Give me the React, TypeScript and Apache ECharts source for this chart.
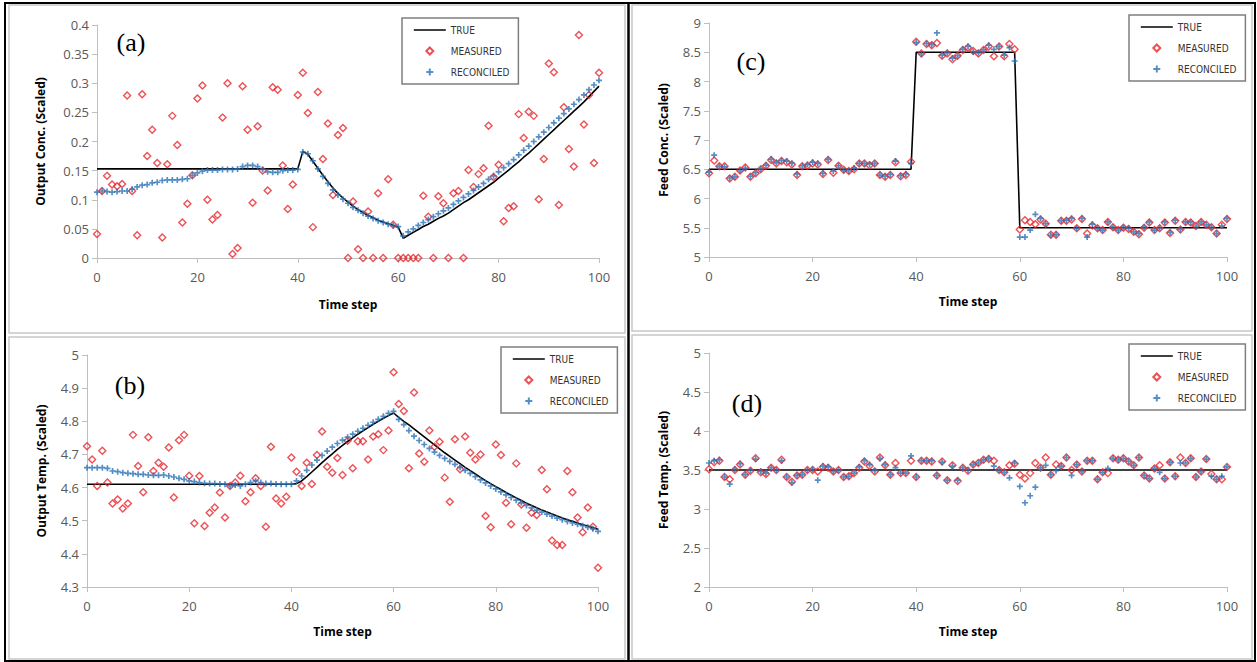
import React, { useEffect, useRef } from "react";
import * as echarts from "echarts";

// ---- time steps (x categories) ----
const steps: number[] = Array.from({ length: 101 }, (_, i) => i);
const xTicks = [0, 20, 40, 60, 80, 100];

// ---- panel (a): Output concentration ----
const trueA = [
  0.153, 0.153, 0.153, 0.153, 0.153, 0.153, 0.153, 0.153, 0.153, 0.153,
  0.153, 0.153, 0.153, 0.153, 0.153, 0.153, 0.153, 0.153, 0.153, 0.153,
  0.153, 0.153, 0.153, 0.153, 0.153, 0.153, 0.153, 0.153, 0.153, 0.153,
  0.153, 0.153, 0.153, 0.153, 0.153, 0.153, 0.153, 0.153, 0.153, 0.153,
  0.153, 0.183, 0.178, 0.166, 0.154, 0.142, 0.131, 0.12, 0.111, 0.103,
  0.096, 0.089, 0.083, 0.078, 0.073, 0.069, 0.065, 0.062, 0.059, 0.056,
  0.053, 0.034, 0.039, 0.044, 0.049, 0.054, 0.058, 0.063, 0.068, 0.072,
  0.077, 0.083, 0.089, 0.095, 0.1, 0.106, 0.112, 0.118, 0.124, 0.13,
  0.137, 0.144, 0.151, 0.158, 0.165, 0.173, 0.18, 0.188, 0.196, 0.204,
  0.212, 0.22, 0.228, 0.236, 0.244, 0.252, 0.26, 0.268, 0.277, 0.286,
  0.295,
];
const measA = [
  0.041, 0.115, 0.141, 0.126, 0.123, 0.127, 0.279, 0.115, 0.039, 0.281,
  0.175, 0.22, 0.163, 0.035, 0.161, 0.244, 0.194, 0.061, 0.093, 0.142,
  0.274, 0.296, 0.1, 0.066, 0.074, 0.241, 0.3, 0.007, 0.017, 0.295,
  0.22, 0.095, 0.226, 0.15, 0.116, 0.293, 0.289, 0.159, 0.084, 0.126,
  0.28, 0.318, 0.249, 0.053, 0.285, 0.17, 0.231, 0.108, 0.211, 0.223,
  0, 0.097, 0.015, 0, 0.08, 0, 0.111, 0, 0.135, 0.057,
  0, 0, 0, 0, 0, 0.107, 0.071, 0, 0.106, 0.094,
  0, 0.111, 0.115, 0, 0.151, 0.122, 0.144, 0.154, 0.227, 0.139,
  0.16, 0.063, 0.086, 0.089, 0.247, 0.206, 0.251, 0.244, 0.101, 0.17,
  0.334, 0.319, 0.091, 0.259, 0.187, 0.157, 0.383, 0.229, 0.28, 0.163,
  0.318,
];
const reconA = [
  0.113, 0.115, 0.114, 0.113, 0.114, 0.115, 0.115, 0.118, 0.122, 0.125,
  0.126, 0.129, 0.13, 0.133, 0.134, 0.134, 0.134, 0.135, 0.136, 0.142,
  0.146, 0.149, 0.151, 0.151, 0.151, 0.152, 0.152, 0.152, 0.153, 0.157,
  0.159, 0.159, 0.157, 0.152, 0.148, 0.147, 0.147, 0.15, 0.151, 0.151,
  0.152, 0.182, 0.179, 0.167, 0.153, 0.14, 0.128, 0.117, 0.108, 0.101,
  0.094, 0.087, 0.082, 0.077, 0.072, 0.068, 0.064, 0.061, 0.058, 0.056,
  0.054, 0.038, 0.045, 0.05, 0.056, 0.061, 0.066, 0.071, 0.076, 0.081,
  0.086, 0.092, 0.098, 0.104, 0.11, 0.116, 0.122, 0.128, 0.135, 0.141,
  0.148, 0.155, 0.162, 0.169, 0.177, 0.185, 0.192, 0.2, 0.208, 0.216,
  0.224, 0.232, 0.24, 0.248, 0.256, 0.264, 0.272, 0.28, 0.289, 0.297,
  0.305,
];

// ---- panel (b): Output temperature ----
const trueB = [
  4.61, 4.61, 4.61, 4.61, 4.61, 4.61, 4.61, 4.61, 4.61, 4.61,
  4.61, 4.61, 4.61, 4.61, 4.61, 4.61, 4.61, 4.61, 4.61, 4.61,
  4.61, 4.61, 4.61, 4.61, 4.61, 4.61, 4.61, 4.61, 4.61, 4.61,
  4.61, 4.61, 4.61, 4.61, 4.61, 4.61, 4.61, 4.61, 4.61, 4.61,
  4.61, 4.612, 4.62, 4.633, 4.647, 4.661, 4.675, 4.689, 4.702, 4.715,
  4.727, 4.739, 4.75, 4.761, 4.771, 4.781, 4.791, 4.8, 4.809, 4.817,
  4.825, 4.812, 4.8, 4.789, 4.777, 4.765, 4.753, 4.741, 4.729, 4.717,
  4.705, 4.694, 4.683, 4.672, 4.661, 4.651, 4.641, 4.631, 4.621, 4.612,
  4.603, 4.594, 4.585, 4.577, 4.569, 4.561, 4.553, 4.546, 4.539, 4.532,
  4.526, 4.52, 4.514, 4.508, 4.503, 4.498, 4.493, 4.488, 4.484, 4.479,
  4.474,
];
const measB = [
  4.725, 4.685, 4.605, 4.711, 4.615, 4.552, 4.564, 4.537, 4.552, 4.759,
  4.665, 4.586, 4.752, 4.65, 4.675, 4.663, 4.721, 4.57, 4.743, 4.759,
  4.636, 4.492, 4.635, 4.484, 4.524, 4.54, 4.585, 4.51, 4.605, 4.615,
  4.636, 4.559, 4.586, 4.628, 4.605, 4.482, 4.723, 4.567, 4.552, 4.572,
  4.691, 4.648, 4.605, 4.675, 4.611, 4.698, 4.769, 4.663, 4.645, 4.689,
  4.638, 4.741, 4.658, 4.74, 4.74, 4.685, 4.754, 4.761, 4.713, 4.772,
  4.948, 4.852, 4.831, 4.658, 4.887, 4.703, 4.678, 4.772, 4.723, 4.738,
  4.63, 4.557, 4.746, 4.655, 4.754, 4.705, 4.685, 4.7, 4.514, 4.48,
  4.73, 4.698, 4.554, 4.489, 4.673, 4.549, 4.479, 4.524, 4.517, 4.653,
  4.595, 4.44, 4.427, 4.427, 4.65, 4.586, 4.51, 4.465, 4.54, 4.482,
  4.358,
];
const reconB = [
  4.66, 4.66, 4.66, 4.66, 4.658, 4.65, 4.648, 4.645, 4.643, 4.642,
  4.64, 4.64, 4.638, 4.637, 4.637, 4.638, 4.635, 4.632, 4.628, 4.625,
  4.62, 4.618, 4.615, 4.613, 4.612, 4.612, 4.611, 4.61, 4.605, 4.608,
  4.605, 4.61, 4.615, 4.62, 4.615, 4.612, 4.612, 4.611, 4.61, 4.61,
  4.61, 4.62, 4.635, 4.652, 4.668, 4.683, 4.697, 4.71, 4.722, 4.733,
  4.743, 4.752, 4.761, 4.77, 4.779, 4.788, 4.797, 4.806, 4.815, 4.824,
  4.83, 4.806, 4.79, 4.772, 4.755, 4.742, 4.73, 4.718, 4.707, 4.697,
  4.688, 4.679, 4.67, 4.661, 4.652, 4.643, 4.633, 4.623, 4.614, 4.605,
  4.596, 4.587, 4.578, 4.57, 4.562, 4.554, 4.546, 4.539, 4.532, 4.526,
  4.52, 4.514, 4.508, 4.503, 4.498, 4.493, 4.489, 4.485, 4.48, 4.476,
  4.468,
];

// ---- panel (c): Feed concentration ----
const trueC = [
  6.5, 6.5, 6.5, 6.5, 6.5, 6.5, 6.5, 6.5, 6.5, 6.5,
  6.5, 6.5, 6.5, 6.5, 6.5, 6.5, 6.5, 6.5, 6.5, 6.5,
  6.5, 6.5, 6.5, 6.5, 6.5, 6.5, 6.5, 6.5, 6.5, 6.5,
  6.5, 6.5, 6.5, 6.5, 6.5, 6.5, 6.5, 6.5, 6.5, 6.5,
  8.5, 8.5, 8.5, 8.5, 8.5, 8.5, 8.5, 8.5, 8.5, 8.5,
  8.5, 8.5, 8.5, 8.5, 8.5, 8.5, 8.5, 8.5, 8.5, 8.5,
  5.5, 5.5, 5.5, 5.5, 5.5, 5.5, 5.5, 5.5, 5.5, 5.5,
  5.5, 5.5, 5.5, 5.5, 5.5, 5.5, 5.5, 5.5, 5.5, 5.5,
  5.5, 5.5, 5.5, 5.5, 5.5, 5.5, 5.5, 5.5, 5.5, 5.5,
  5.5, 5.5, 5.5, 5.5, 5.5, 5.5, 5.5, 5.5, 5.5, 5.5,
  5.5,
];
const measC = [
  6.43, 6.65, 6.55, 6.55, 6.34, 6.37, 6.48, 6.53, 6.37, 6.43,
  6.5, 6.56, 6.66, 6.6, 6.64, 6.62, 6.58, 6.4, 6.55, 6.56,
  6.6, 6.58, 6.42, 6.66, 6.44, 6.56, 6.49, 6.47, 6.5, 6.6,
  6.6, 6.57, 6.6, 6.4, 6.37, 6.4, 6.62, 6.38, 6.4, 6.63,
  8.68, 8.48, 8.64, 8.62, 8.66, 8.44, 8.48, 8.38, 8.44, 8.54,
  8.58, 8.52, 8.48, 8.54, 8.6, 8.43, 8.6, 8.43, 8.64, 8.55,
  5.47, 5.63, 5.6, 5.56, 5.64, 5.57, 5.38, 5.38, 5.62, 5.62,
  5.64, 5.49, 5.65, 5.4, 5.54, 5.49, 5.46, 5.6, 5.51, 5.46,
  5.5, 5.48, 5.43, 5.39, 5.5, 5.59, 5.46, 5.49, 5.59, 5.41,
  5.62, 5.47, 5.6, 5.59, 5.53, 5.6, 5.55, 5.51, 5.4, 5.55,
  5.65,
];
const reconC = [
  6.45, 6.74, 6.55, 6.54, 6.35, 6.37, 6.47, 6.52, 6.38, 6.44,
  6.5, 6.57, 6.67, 6.61, 6.65, 6.64, 6.6, 6.42, 6.56, 6.58,
  6.62, 6.6, 6.43, 6.67, 6.47, 6.56, 6.48, 6.47, 6.52, 6.6,
  6.6, 6.59, 6.6, 6.4, 6.38, 6.41, 6.64, 6.39, 6.42, 6.6,
  8.67, 8.47, 8.65, 8.63, 8.83, 8.45, 8.49, 8.4, 8.44, 8.55,
  8.6, 8.51, 8.49, 8.54, 8.62, 8.55, 8.6, 8.45, 8.58, 8.35,
  5.34, 5.34, 5.46, 5.73, 5.66, 5.57, 5.37, 5.38, 5.62, 5.63,
  5.66, 5.49, 5.66, 5.34, 5.56, 5.49, 5.46, 5.6, 5.51, 5.46,
  5.51, 5.49, 5.43, 5.4, 5.51, 5.6, 5.46, 5.5, 5.6, 5.42,
  5.63, 5.47, 5.6, 5.6, 5.53, 5.6, 5.55, 5.51, 5.4, 5.53,
  5.66,
];

// ---- panel (d): Feed temperature ----
const trueD = [
  3.5, 3.5, 3.5, 3.5, 3.5, 3.5, 3.5, 3.5, 3.5, 3.5,
  3.5, 3.5, 3.5, 3.5, 3.5, 3.5, 3.5, 3.5, 3.5, 3.5,
  3.5, 3.5, 3.5, 3.5, 3.5, 3.5, 3.5, 3.5, 3.5, 3.5,
  3.5, 3.5, 3.5, 3.5, 3.5, 3.5, 3.5, 3.5, 3.5, 3.5,
  3.5, 3.5, 3.5, 3.5, 3.5, 3.5, 3.5, 3.5, 3.5, 3.5,
  3.5, 3.5, 3.5, 3.5, 3.5, 3.5, 3.5, 3.5, 3.5, 3.5,
  3.5, 3.5, 3.5, 3.5, 3.5, 3.5, 3.5, 3.5, 3.5, 3.5,
  3.5, 3.5, 3.5, 3.5, 3.5, 3.5, 3.5, 3.5, 3.5, 3.5,
  3.5, 3.5, 3.5, 3.5, 3.5, 3.5, 3.5, 3.5, 3.5, 3.5,
  3.5, 3.5, 3.5, 3.5, 3.5, 3.5, 3.5, 3.5, 3.5, 3.5,
  3.5,
];
const measD = [
  3.51, 3.6, 3.62, 3.41, 3.38, 3.5, 3.57, 3.44, 3.49, 3.65,
  3.47, 3.45, 3.53, 3.5, 3.63, 3.41, 3.35, 3.43, 3.44, 3.5,
  3.5, 3.48, 3.54, 3.53, 3.48, 3.5, 3.41, 3.42, 3.46, 3.53,
  3.61, 3.55, 3.48, 3.66, 3.56, 3.44, 3.59, 3.46, 3.46, 3.62,
  3.41, 3.62, 3.62, 3.61, 3.43, 3.61, 3.37, 3.56, 3.36, 3.53,
  3.49, 3.57, 3.59, 3.63, 3.64, 3.62, 3.5, 3.47, 3.56, 3.58,
  3.44, 3.39, 3.46, 3.59, 3.53, 3.66, 3.44, 3.57, 3.55, 3.66,
  3.5, 3.57, 3.48, 3.62, 3.62, 3.38, 3.47, 3.46, 3.65, 3.63,
  3.65, 3.61, 3.56, 3.66, 3.43, 3.39, 3.52, 3.56, 3.39, 3.6,
  3.42, 3.66, 3.59, 3.65, 3.41, 3.48, 3.64, 3.45, 3.38, 3.38,
  3.54,
];
const reconD = [
  3.59, 3.62, 3.63, 3.41, 3.32, 3.51, 3.58, 3.44, 3.5, 3.64,
  3.48, 3.46, 3.53, 3.5, 3.62, 3.41, 3.34, 3.43, 3.44, 3.5,
  3.51, 3.37, 3.55, 3.54, 3.48, 3.5, 3.41, 3.42, 3.46, 3.54,
  3.62, 3.57, 3.49, 3.65, 3.57, 3.44, 3.53, 3.46, 3.46, 3.68,
  3.41, 3.62, 3.62, 3.62, 3.43, 3.6, 3.37, 3.55, 3.37, 3.53,
  3.5, 3.57, 3.59, 3.63, 3.65, 3.55, 3.5, 3.47, 3.4, 3.59,
  3.29, 3.08, 3.17, 3.28, 3.53, 3.56, 3.44, 3.49, 3.55, 3.66,
  3.43, 3.57, 3.48, 3.62, 3.62, 3.38, 3.47, 3.52, 3.65, 3.63,
  3.65, 3.61, 3.56, 3.66, 3.43, 3.39, 3.52, 3.47, 3.39, 3.6,
  3.42, 3.59, 3.59, 3.65, 3.41, 3.48, 3.64, 3.42, 3.38, 3.42,
  3.54,
];

const seriesNames = ["TRUE", "MEASURED", "RECONCILED"];
const panelLabels = ["(a)", "(b)", "(c)", "(d)"];
const yTitles = [
  "Output Conc. (Scaled)",
  "Output Temp. (Scaled)",
  "Feed Conc. (Scaled)",
  "Feed Temp. (Scaled)",
];
const xTitle = "Time step";
const yRanges = [
  { min: 0, max: 0.4, interval: 0.05 },
  { min: 4.3, max: 5, interval: 0.1 },
  { min: 5, max: 9, interval: 0.5 },
  { min: 2, max: 5, interval: 0.5 },
];
const panelData = [
  { t: trueA, m: measA, r: reconA },
  { t: trueB, m: measB, r: reconB },
  { t: trueC, m: measC, r: reconC },
  { t: trueD, m: measD, r: reconD },
];

// ---- layout (pixels) ----
const layout = [
  { grid: { left: 97, top: 25, width: 502, height: 233 }, yGap: 51, xGap: 40, legend: { left: 402, top: 18 }, label: [131, 42] },
  { grid: { left: 87, top: 355, width: 511, height: 232 }, yGap: 40, xGap: 38, legend: { left: 501, top: 347 }, label: [130, 385] },
  { grid: { left: 709, top: 23, width: 518, height: 234 }, yGap: 40, xGap: 38, legend: { left: 1129, top: 15 }, label: [751, 61] },
  { grid: { left: 709, top: 353, width: 518, height: 234 }, yGap: 40, xGap: 38, legend: { left: 1129, top: 344 }, label: [747, 403] },
];

const FONT = '"Open Sans", "Liberation Sans", sans-serif';
const LEGEND_FONT = '"Liberation Sans Narrow", "DejaVu Sans Condensed", "Roboto", sans-serif';
const DIAMOND = "path://M5,0L10,5L5,10L0,5Z";
const PLUS = "path://M3.6,0H6.4V3.6H10V6.4H6.4V10H3.6V6.4H0V3.6H3.6Z";
const RED = "#e8262b";
const BLUE = "#2a72b5";
const AXIS_GRAY = "#bfbfbf";
const LABEL_GRAY = "#595959";

export default function App() {
  const ref = useRef<HTMLDivElement>(null);

  useEffect(() => {
    if (!ref.current) return;
    const chart = echarts.init(ref.current, undefined, { renderer: "svg" });

    const grids = layout.map((l) => ({ ...l.grid }));
    const xAxes = layout.map((l, i) => ({
      type: "value",
      gridIndex: i,
      min: 0,
      max: 100,
      interval: 20,
      name: xTitle,
      nameLocation: "middle",
      nameGap: l.xGap,
      nameTextStyle: { fontFamily: FONT, fontWeight: "bold", fontSize: 12, color: "#000" },
      axisLine: { show: true, onZero: false, lineStyle: { color: AXIS_GRAY, width: 1 } },
      axisTick: { show: true, inside: false, length: 5, lineStyle: { color: AXIS_GRAY } },
      axisLabel: {
        fontFamily: FONT,
        fontSize: 13,
        color: LABEL_GRAY,
        margin: 12,
        customValues: xTicks,
      },
      splitLine: { show: false },
    }));
    const yAxes = layout.map((l, i) => ({
      type: "value",
      gridIndex: i,
      min: yRanges[i].min,
      max: yRanges[i].max,
      interval: yRanges[i].interval,
      name: yTitles[i],
      nameLocation: "middle",
      nameRotate: 90,
      nameGap: l.yGap,
      nameTextStyle: { fontFamily: FONT, fontWeight: "bold", fontSize: 12, color: "#000" },
      axisLine: { show: true, onZero: false, lineStyle: { color: AXIS_GRAY, width: 1 } },
      axisTick: { show: true, inside: false, length: 5, lineStyle: { color: AXIS_GRAY } },
      axisLabel: { fontFamily: FONT, fontSize: 13, color: LABEL_GRAY, margin: 8 },
      splitLine: { show: false },
    }));

    const series: any[] = [];
    panelData.forEach((d, i) => {
      series.push({
        name: seriesNames[0],
        type: "line",
        xAxisIndex: i,
        yAxisIndex: i,
        data: steps.map((s, k) => [s, d.t[k]]),
        showSymbol: false,
        symbol: "none",
        lineStyle: { color: "#000", width: 1.6 },
        itemStyle: { color: "#000" },
        z: 2,
        silent: true,
      });
      series.push({
        name: seriesNames[1],
        type: "scatter",
        xAxisIndex: i,
        yAxisIndex: i,
        data: steps.map((s, k) => [s, d.m[k]]),
        symbol: DIAMOND,
        symbolSize: 7,
        itemStyle: { color: "rgba(255,255,255,0)", borderColor: RED, borderWidth: 1.4 },
        z: 3,
        silent: true,
      });
      series.push({
        name: seriesNames[2],
        type: "scatter",
        xAxisIndex: i,
        yAxisIndex: i,
        data: steps.map((s, k) => [s, d.r[k]]),
        symbol: PLUS,
        symbolSize: 6,
        itemStyle: { color: BLUE },
        z: 4,
        silent: true,
      });
    });

    const legends = layout.map((l) => ({
      orient: "vertical",
      left: l.legend.left,
      top: l.legend.top,
      selectedMode: false,
      itemWidth: 32,
      itemHeight: 7,
      itemGap: 9,
      padding: [6, 9, 6, 11],
      borderColor: "#7f7f7f",
      borderWidth: 1.5,
      backgroundColor: "#fff",
      textStyle: { fontFamily: LEGEND_FONT, fontSize: 10, color: "#333", lineHeight: 12 },
      data: [
        {
          name: seriesNames[0],
          itemStyle: { color: "rgba(0,0,0,0)", borderColor: "rgba(0,0,0,0)", borderWidth: 0 },
          lineStyle: { color: "#000", width: 1.6 },
        },
        { name: seriesNames[1], icon: DIAMOND },
        { name: seriesNames[2], icon: PLUS },
      ],
    }));

    const graphics: any[] = [
      { type: "rect", silent: true, shape: { x: 9, y: 5, width: 616, height: 328 }, style: { fill: "none", stroke: "#c8c8c8", lineWidth: 1.5 } },
      { type: "rect", silent: true, shape: { x: 9, y: 337, width: 616, height: 322 }, style: { fill: "none", stroke: "#c8c8c8", lineWidth: 1.5 } },
      { type: "rect", silent: true, shape: { x: 632, y: 5, width: 620, height: 326 }, style: { fill: "none", stroke: "#c8c8c8", lineWidth: 1.5 } },
      { type: "rect", silent: true, shape: { x: 632, y: 335, width: 620, height: 324 }, style: { fill: "none", stroke: "#c8c8c8", lineWidth: 1.5 } },
      { type: "rect", silent: true, shape: { x: 5, y: 3, width: 1250, height: 658 }, style: { fill: "none", stroke: "#000", lineWidth: 2 } },
      { type: "line", silent: true, shape: { x1: 628.5, y1: 3, x2: 628.5, y2: 661 }, style: { stroke: "#000", lineWidth: 2.5 } },
      ...layout.map((l, i) => ({
        type: "text",
        silent: true,
        x: l.label[0],
        y: l.label[1],
        style: {
          text: panelLabels[i],
          font: '26px "Liberation Serif", "Times New Roman", serif',
          fill: "#000",
          align: "center",
          verticalAlign: "middle",
        },
      })),
    ];

    chart.setOption({
      animation: false,
      backgroundColor: "#fff",
      grid: grids,
      xAxis: xAxes,
      yAxis: yAxes,
      legend: legends,
      series,
      graphic: graphics,
    });

    return () => chart.dispose();
  }, []);

  return (
    <div
      ref={ref}
      style={{ position: "fixed", left: 0, top: 0, width: 1257, height: 662, background: "#fff" }}
    />
  );
}
